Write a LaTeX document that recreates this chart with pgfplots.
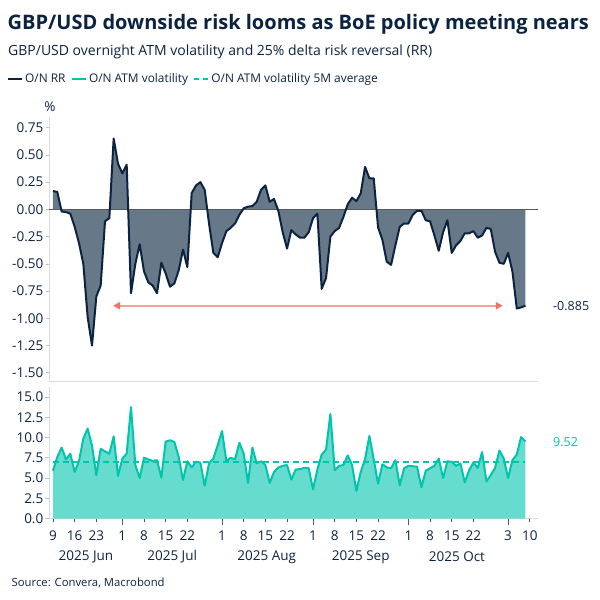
\documentclass[border=0pt]{standalone}
\usepackage{fontspec}
\setmainfont{Open Sans}
\usepackage{pgfplots}
\pgfplotsset{compat=1.18}
\usepackage{pgfplotstable}
\usepgfplotslibrary{fillbetween}
\usetikzlibrary{arrows.meta}

\definecolor{navy}{HTML}{0B2341}
\definecolor{rrfill}{HTML}{677889}
\definecolor{volteal}{HTML}{00C4AC}
\definecolor{volfill}{HTML}{66DCCF}
\definecolor{salmonline}{HTML}{F2A39B}
\definecolor{salmonhead}{HTML}{EE7468}
\definecolor{axgray}{HTML}{D9D9D9}
\definecolor{tickgray}{HTML}{BFBFBF}
\definecolor{zerogray}{HTML}{595959}

\pgfplotstableread{
x y
0 0.168
1 0.16
2 -0.02
3 -0.025
4 -0.04
5 -0.16
6 -0.31
7 -0.50
8 -0.99
9 -1.25
10 -0.80
11 -0.70
12 -0.11
13 -0.08
14 0.65
15 0.42
16 0.33
17 0.41
18 -0.77
19 -0.50
20 -0.32
21 -0.57
22 -0.67
23 -0.70
24 -0.77
25 -0.49
26 -0.59
27 -0.71
28 -0.68
29 -0.56
30 -0.37
31 -0.53
32 0.15
33 0.22
34 0.25
35 0.18
36 -0.13
37 -0.40
38 -0.44
39 -0.31
40 -0.20
41 -0.17
42 -0.13
43 -0.05
44 0.01
45 0.025
46 0.03
47 0.07
48 0.18
49 0.22
50 0.07
51 0.095
52 -0.015
53 -0.21
54 -0.36
55 -0.19
56 -0.23
57 -0.26
58 -0.26
59 -0.21
60 -0.08
61 -0.04
62 -0.73
63 -0.63
64 -0.25
65 -0.20
66 -0.17
67 -0.07
68 0.046
69 0.107
70 0.076
71 0.147
72 0.39
73 0.285
74 0.285
75 -0.165
76 -0.28
77 -0.48
78 -0.51
79 -0.33
80 -0.16
81 -0.13
82 -0.13
83 -0.05
84 -0.013
85 -0.013
86 -0.10
87 -0.11
88 -0.24
89 -0.38
90 -0.21
91 -0.10
92 -0.40
93 -0.33
94 -0.29
95 -0.22
96 -0.22
97 -0.20
98 -0.26
99 -0.24
100 -0.17
101 -0.18
102 -0.39
103 -0.49
104 -0.50
105 -0.40
106 -0.57
107 -0.91
108 -0.90
109 -0.885
}\rrdata

\pgfplotstableread{
x y
0 5.9
1 7.6
2 8.75
3 7.3
4 8.0
5 5.75
6 7.1
7 9.85
8 11.1
9 9.0
10 5.35
11 8.6
12 8.3
13 8.0
14 10.15
15 5.25
16 7.4
17 8.0
18 13.75
19 6.6
20 5.0
21 7.5
22 7.3
23 7.1
24 7.2
25 5.05
26 9.5
27 9.65
28 9.45
29 7.6
30 4.75
31 7.07
32 6.3
33 7.0
34 6.9
35 4.05
36 6.8
37 7.4
38 9.05
39 10.8
40 7.07
41 7.5
42 7.3
43 9.35
44 8.0
45 4.4
46 8.75
47 6.8
48 7.07
49 6.6
50 4.4
51 5.75
52 6.3
53 6.5
54 6.6
55 4.8
56 6.05
57 6.1
58 6.25
59 6.2
60 3.6
61 6.05
62 7.9
63 8.5
64 12.9
65 5.95
66 6.5
67 6.6
68 7.8
69 6.6
70 3.4
71 5.75
72 7.3
73 10.2
74 7.3
75 4.3
76 6.7
77 6.3
78 6.2
79 7.2
80 4.1
81 6.2
82 6.5
83 6.45
84 6.4
85 3.85
86 5.9
87 6.2
88 6.5
89 7.4
90 5.0
91 7.07
92 7.0
93 6.5
94 6.8
95 4.45
96 5.95
97 6.9
98 6.25
99 8.2
100 4.6
101 5.35
102 6.25
103 8.4
104 7.4
105 5.0
106 7.2
107 7.9
108 10.05
109 9.52
}\voldata

\begin{document}
\begin{tikzpicture}
\path (0pt,0pt) rectangle (600pt,-600pt);

% titles
\node[anchor=base west, inner sep=0pt, text=navy, font=\fontsize{20}{23}\selectfont\bfseries] at (7.5pt,-29.5pt) {GBP/USD downside risk looms as BoE policy meeting nears};
\node[anchor=base west, inner sep=0pt, text=navy, font=\fontsize{14}{17}\selectfont] at (8pt,-55pt) {GBP/USD overnight ATM volatility and 25\% delta risk reversal (RR)};

% legend
\begin{scope}[font=\fontsize{11.9}{14}\selectfont]
\draw[navy, line width=2pt] (8pt,-78.7pt) -- (22pt,-78.7pt);
\node[anchor=base west, inner sep=0pt, text=navy] (l1) at (25pt,-82.7pt) {O/N RR};
\draw[volteal, line width=2pt] ([xshift=6pt,yshift=4pt]l1.base east) -- ++(14pt,0) coordinate (e2);
\node[anchor=base west, inner sep=0pt, text=navy] (l2) at ([xshift=3pt,yshift=-4pt]e2) {O/N ATM volatility};
\draw[volteal, line width=2pt, dash pattern=on 5pt off 4pt] ([xshift=6pt,yshift=4pt]l2.base east) -- ++(14pt,0) coordinate (e3);
\node[anchor=base west, inner sep=0pt, text=navy] at ([xshift=3pt,yshift=-4pt]e3) {O/N ATM volatility 5M average};
\end{scope}

% top panel: risk reversal
\begin{axis}[
  at={(49pt,-381pt)}, anchor=south west,
  scale only axis, width=489pt, height=264pt,
  xmin=-0.92, xmax=111.9,
  ymin=-1.576, ymax=0.848,
  axis x line*=bottom, axis y line*=left,
  axis line style={draw=axgray, line width=0.8pt},
  xtick=\empty,
  ytick={-1.5,-1.25,-1,-0.75,-0.5,-0.25,0,0.25,0.5,0.75},
  tick align=outside, major tick length=3.5pt,
  y tick style={draw=tickgray, line width=0.6pt},
  /pgf/number format/assume math mode=true,
  y tick label style={/pgf/number format/fixed, /pgf/number format/fixed zerofill, /pgf/number format/precision=2,
     font=\fontsize{13.5}{16}\selectfont, text=navy, inner sep=2pt},
  clip=false,
]
\addplot[draw=none, name path=zero, forget plot] coordinates {(0,0) (109,0)};
\addplot[draw=none, name path=rr, forget plot] table[x=x,y=y] {\rrdata};
\addplot[fill=rrfill, draw=none] fill between[of=rr and zero, on layer=main];
\addplot[zerogray, line width=0.8pt] coordinates {(-0.92,0) (111.9,0)};
\addplot[navy, line width=2pt, line join=round] table[x=x,y=y] {\rrdata};
\addplot[salmonline, line width=1.6pt,
   arrows={Triangle[length=7pt,width=7pt,color=salmonhead]-Triangle[length=7pt,width=7pt,color=salmonhead]}]
   coordinates {(13.85,-0.885) (103.8,-0.885)};
\end{axis}

% bottom panel: volatility
\begin{axis}[
  at={(49pt,-518.5pt)}, anchor=south west,
  scale only axis, width=489pt, height=131.5pt,
  xmin=-0.92, xmax=111.9,
  ymin=0, ymax=16.23,
  axis x line*=bottom, axis y line*=left,
  axis line style={draw=axgray, line width=0.8pt},
  ytick={0,2.5,5,7.5,10,12.5,15},
  xtick={0,5,10,21,26,31,44,49,54,65,70,75,87,92,97,110},
  xticklabels={9,16,23,8,15,22,8,15,22,8,15,22,8,15,22,10},
  extra x ticks={16,39,60,82,105},
  extra x tick labels={1,1,1,1,3},
  extra x tick style={major tick length=6pt, x tick label style={yshift=2.5pt}},
  tick align=outside, major tick length=3.5pt,
  y tick style={draw=tickgray, line width=0.6pt},
  x tick style={draw=zerogray, line width=0.8pt},
  /pgf/number format/assume math mode=true,
  y tick label style={/pgf/number format/fixed, /pgf/number format/fixed zerofill, /pgf/number format/precision=1,
     font=\fontsize{13.5}{16}\selectfont, text=navy, inner sep=2pt},
  x tick label style={font=\fontsize{13.5}{16}\selectfont, text=navy, inner sep=0pt, yshift=-9pt},
  clip=false,
]
\addplot[fill=volfill, draw=none] table[x=x,y=y] {\voldata} \closedcycle;
\addplot[volteal, line width=1.8pt, dash pattern=on 6pt off 4pt] coordinates {(0,6.98) (109,6.98)};
\addplot[volteal, line width=2pt, line join=round] table[x=x,y=y] {\voldata};
\node[text=navy, font=\fontsize{13.5}{16}\selectfont] at (axis cs:7.6,0) [yshift=-38.5pt] {2025 Jun};
\node[text=navy, font=\fontsize{13.5}{16}\selectfont] at (axis cs:27.5,0) [yshift=-38.5pt] {2025 Jul};
\node[text=navy, font=\fontsize{13.5}{16}\selectfont] at (axis cs:49.3,0) [yshift=-38.5pt] {2025 Aug};
\node[text=navy, font=\fontsize{13.5}{16}\selectfont] at (axis cs:71,0) [yshift=-38.5pt] {2025 Sep};
\node[text=navy, font=\fontsize{13.5}{16}\selectfont] at (axis cs:93.2,0) [yshift=-38.5pt] {2025 Oct};
\end{axis}

% end labels
\node[anchor=west, inner sep=0pt, text=navy, font=\fontsize{12.5}{15}\selectfont] at (553pt,-306pt) {-0.885};
\node[anchor=west, inner sep=0pt, text=volteal, font=\fontsize{12.5}{15}\selectfont] at (553pt,-441.7pt) {9.52};
\node[anchor=center, inner sep=0pt, text=navy, font=\fontsize{13.5}{16}\selectfont] at (50pt,-107pt) {\%};

% source
\node[anchor=base west, inner sep=0pt, text=navy, font=\fontsize{11.3}{13}\selectfont] at (11.5pt,-586pt) {Source: Convera, Macrobond};
\end{tikzpicture}
\end{document}
